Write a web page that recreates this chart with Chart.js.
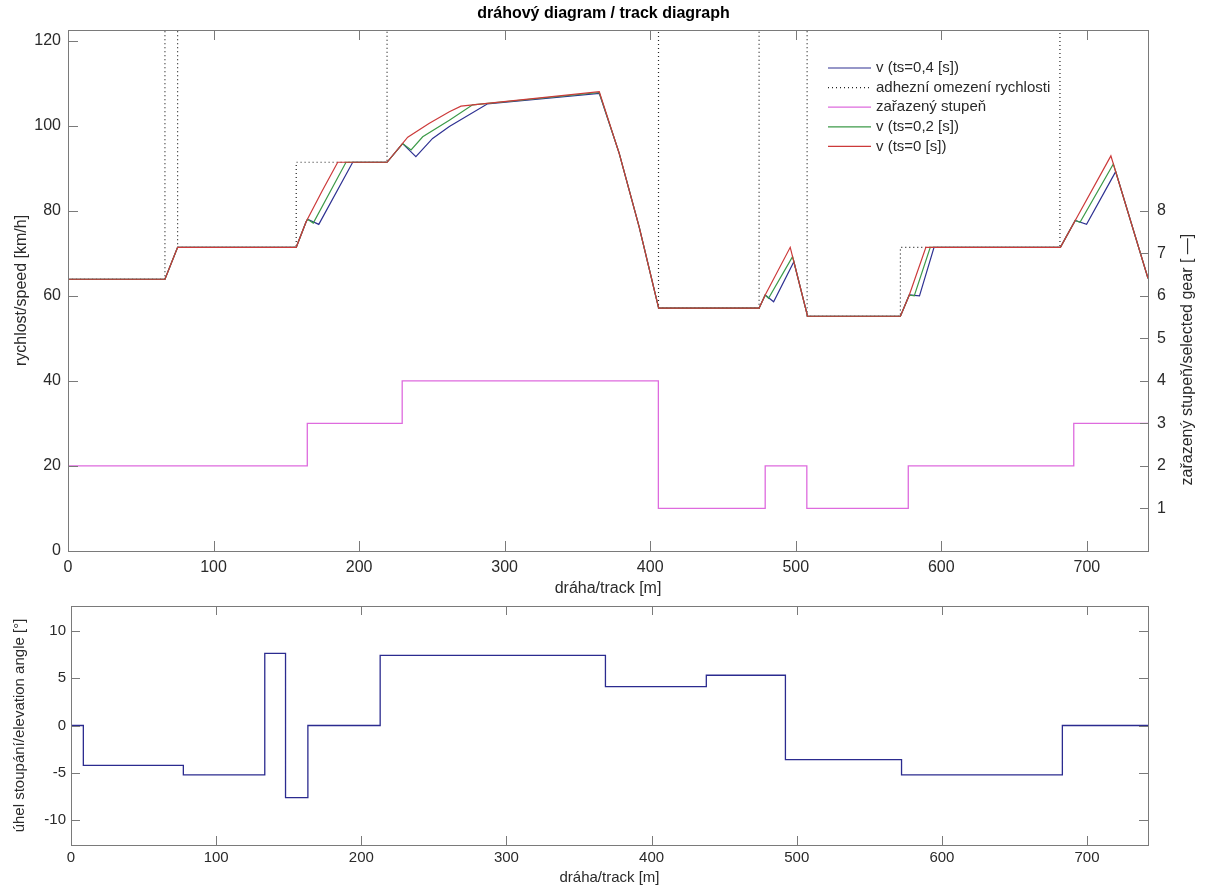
<!DOCTYPE html>
<html>
<head>
<meta charset="utf-8">
<script src="https://cdn.jsdelivr.net/npm/chart.js@4.4.0/dist/chart.umd.min.js"></script>
<style>
  html, body { margin: 0; padding: 0; background: #ffffff; }
  #wrap { position: relative; width: 1207px; height: 888px; background: #fff; }
  #top { position: absolute; left: 0; top: 0; }
  #bot { position: absolute; left: 0; top: 600px; }
</style>
</head>
<body>
<div id="wrap">
  <canvas id="top" width="1207" height="600"></canvas>
  <canvas id="bot" width="1207" height="288"></canvas>
</div>
<script>
// ---------------- DATA ----------------
const titleText = 'dráhový diagram / track diagraph';
const xTitle = 'dráha/track [m]';
const ySpeedTitle = 'rychlost/speed [km/h]';
const yGearTitle = 'zařazený stupeň/selected gear [ —]';
const yElevTitle = 'úhel stoupání/elevation angle [°]';

const legendLabels = ['v (ts=0,4 [s])', 'adhezní omezení rychlosti', 'zařazený stupeň', 'v (ts=0,2 [s])', 'v (ts=0 [s])'];

// speed, ts = 0.4 s
const blueX = [0, 66.6, 75.3, 156.8, 163.6, 164.6, 172.3, 195.6, 219.2, 229.9, 239, 250.5, 262, 288, 365, 378.7, 392.4, 405.8, 474.8, 479, 484.8, 498.7, 508.1, 571.9, 578, 585, 595, 681.8, 692, 699.8, 719.8, 742];
const blueY = [63.9, 63.9, 71.4, 71.4, 77.4, 78.0, 76.8, 91.4, 91.4, 95.8, 92.7, 97.0, 99.8, 105.1, 107.6, 93.5, 76.2, 57.1, 57.1, 60.2, 58.6, 68.0, 55.2, 55.2, 60.2, 60.0, 71.4, 71.4, 77.7, 76.8, 89.2, 64.1];

// adhesion speed limit (values above the axis run off the top)
const adhX = [0, 66.6, 66.6, 75.3, 75.3, 156.8, 156.8, 219.2, 219.2, 405.7, 405.7, 474.8, 474.8, 507.8, 507.8, 571.9, 571.9, 681.5, 681.5, 742];
const adhY = [63.9, 63.9, 130, 130, 71.4, 71.4, 91.4, 91.4, 130, 130, 57.1, 57.1, 130, 130, 55.2, 55.2, 71.4, 71.4, 130, 130];

// selected gear (value valid from x onwards)
const gearX = [0, 0, 164.4, 229.6, 405.6, 479, 507.6, 577.3, 691, 742];
const gearY = [1, 2, 3, 4, 1, 2, 1, 2, 3, 3];

// speed, ts = 0.2 s
const greenX = [0, 66.6, 75.3, 156.8, 163.6, 164.6, 168.5, 191, 219.2, 229.9, 235.7, 243.7, 262, 278, 365, 378.7, 392.4, 405.8, 474.8, 479, 481.3, 497.8, 508.1, 571.9, 578, 581.4, 592.4, 681.8, 692, 695.3, 718.2, 742];
const greenY = [63.9, 63.9, 71.4, 71.4, 77.4, 78.0, 77.1, 91.4, 91.4, 95.8, 94.3, 97.4, 101.3, 104.9, 107.8, 93.5, 76.2, 57.1, 57.1, 60.2, 59.4, 69.2, 55.2, 55.2, 60.2, 60.0, 71.4, 71.4, 77.7, 77.3, 91.0, 64.1];

// speed, ts = 0 s
const redX = [0, 66.6, 75.3, 156.8, 163.6, 174.5, 185.3, 219.2, 233.4, 248, 262, 270, 365, 378.7, 392.4, 405.8, 474.8, 479, 496.2, 508.1, 571.9, 578, 589.4, 681.8, 692, 716.5, 742];
const redY = [63.9, 63.9, 71.4, 71.4, 77.4, 84.6, 91.4, 91.4, 97.3, 100.5, 103.3, 104.6, 108.0, 93.5, 76.2, 57.1, 57.1, 60.2, 71.4, 55.2, 55.2, 60.2, 71.4, 71.4, 77.7, 92.9, 64.1];

// elevation angle (value valid from x onwards)
const elevX = [0, 8.5, 77.4, 133.5, 147.8, 163.2, 213, 368.2, 437.7, 492.2, 572.2, 683, 742];
const elevY = [0, -4.2, -5.2, 7.6, -7.6, 0, 7.4, 4.1, 5.3, -3.6, -5.2, 0, 0];

// axis ranges / ticks
const xMin = 0, xMax = 742, xStep = 100;
const speedMin = 0, speedMax = 122.5, speedStep = 20;
const gearMin = 0, gearMax = 12.25, gearTicks = [1, 2, 3, 4, 5, 6, 7, 8];
const elevMin = -12.6, elevMax = 12.6, elevStep = 5;

// ---------------- STYLE ----------------
const FONT = "'Liberation Sans', Arial, Helvetica, sans-serif";
const AXIS_COL = '#7a7a7a';
const TEXT_COL = '#2a2a2a';
const COL_BLUE = '#2e3192';
const COL_GREEN = '#3c9a48';
const COL_RED = '#cc3a3a';
const COL_MAG = '#de6bde';
const COL_DOT = '#222222';
const COL_ELEV = '#2b2b8f';

const pts = (xs, ys) => xs.map((x, i) => ({ x: x, y: ys[i] }));

// box + inward tick marks
const frameTicks = {
  id: 'frameTicks',
  afterDraw(chart, args, o) {
    const { ctx, chartArea: a } = chart;
    ctx.save();
    ctx.strokeStyle = AXIS_COL;
    ctx.lineWidth = 1;
    ctx.strokeRect(Math.round(a.left) + 0.5, Math.round(a.top) + 0.5, Math.round(a.right - a.left), Math.round(a.bottom - a.top));
    ctx.beginPath();
    const xs = chart.scales.x;
    xs.ticks.forEach(t => {
      const p = Math.round(xs.getPixelForValue(t.value)) + 0.5;
      ctx.moveTo(p, a.bottom); ctx.lineTo(p, a.bottom - o.len);
      ctx.moveTo(p, a.top); ctx.lineTo(p, a.top + o.len);
    });
    const ys = chart.scales.y;
    ys.ticks.forEach(t => {
      const p = Math.round(ys.getPixelForValue(t.value)) + 0.5;
      ctx.moveTo(a.left, p); ctx.lineTo(a.left + o.len, p);
      if (o.mirrorY) { ctx.moveTo(a.right, p); ctx.lineTo(a.right - o.len, p); }
    });
    const y2 = chart.scales.y2;
    if (y2) {
      y2.ticks.forEach(t => {
        const p = Math.round(y2.getPixelForValue(t.value)) + 0.5;
        ctx.moveTo(a.right, p); ctx.lineTo(a.right - o.len2, p);
      });
    }
    ctx.stroke();
    ctx.restore();
  }
};

// legend drawn inside plot area, from dataset styles
const insideLegend = {
  id: 'insideLegend',
  afterDraw(chart, args, o) {
    if (!o.show) return;
    const { ctx } = chart;
    ctx.save();
    ctx.font = '15px ' + FONT;
    ctx.textBaseline = 'middle';
    ctx.textAlign = 'left';
    chart.data.datasets.forEach((ds, i) => {
      const y = o.y0 + i * o.dy;
      ctx.beginPath();
      ctx.strokeStyle = ds.borderColor;
      ctx.lineWidth = ds.borderWidth;
      ctx.setLineDash(ds.borderDash || []);
      ctx.moveTo(o.x0, y); ctx.lineTo(o.x1, y);
      ctx.stroke();
      ctx.setLineDash([]);
      ctx.fillStyle = TEXT_COL;
      ctx.fillText(ds.label, o.x1 + 5, y);
    });
    ctx.restore();
  }
};

// right axis title, reading bottom-to-top, centered on the visible gear ticks
const rightTitle = {
  id: 'rightTitle',
  afterDraw(chart, args, o) {
    if (!o.text) return;
    const { ctx } = chart;
    const y2 = chart.scales.y2;
    const cy = (y2.getPixelForValue(gearTicks[0]) + y2.getPixelForValue(gearTicks[gearTicks.length - 1])) / 2;
    ctx.save();
    ctx.translate(o.x, cy);
    ctx.rotate(-Math.PI / 2);
    ctx.font = '16px ' + FONT;
    ctx.fillStyle = TEXT_COL;
    ctx.textAlign = 'center';
    ctx.textBaseline = 'middle';
    ctx.fillText(o.text, 0, 0);
    ctx.restore();
  }
};

const noPad = s => { s.paddingTop = 0; s.paddingBottom = 0; s.paddingLeft = 0; s.paddingRight = 0; };

Chart.defaults.font.family = FONT;
Chart.defaults.color = TEXT_COL;

// ---------------- TOP CHART ----------------
new Chart(document.getElementById('top'), {
  type: 'line',
  data: {
    datasets: [
      { label: legendLabels[0], data: pts(blueX, blueY), borderColor: COL_BLUE, borderWidth: 1.2, pointRadius: 0, tension: 0, yAxisID: 'y', order: 5 },
      { label: legendLabels[1], data: pts(adhX, adhY), borderColor: COL_DOT, borderWidth: 1.2, borderDash: [1, 3], pointRadius: 0, tension: 0, yAxisID: 'y', order: 4 },
      { label: legendLabels[2], data: pts(gearX, gearY), borderColor: COL_MAG, borderWidth: 1.3, pointRadius: 0, stepped: 'before', yAxisID: 'y2', order: 3 },
      { label: legendLabels[3], data: pts(greenX, greenY), borderColor: COL_GREEN, borderWidth: 1.2, pointRadius: 0, tension: 0, yAxisID: 'y', order: 2 },
      { label: legendLabels[4], data: pts(redX, redY), borderColor: COL_RED, borderWidth: 1.2, pointRadius: 0, tension: 0, yAxisID: 'y', order: 1 }
    ]
  },
  options: {
    responsive: false,
    animation: false,
    devicePixelRatio: 1,
    layout: { padding: 0 },
    plugins: {
      legend: { display: false },
      tooltip: { enabled: false },
      title: { display: true, text: titleText, color: '#000', font: { size: 16, weight: 'bold', family: FONT }, padding: { top: 4, bottom: 6.8 } },
      frameTicks: { len: 10, len2: 8, mirrorY: false },
      insideLegend: { show: true, x0: 828, x1: 871, y0: 68, dy: 19.6 },
      rightTitle: { text: yGearTitle, x: 1188 }
    },
    scales: {
      x: {
        type: 'linear', min: xMin, max: xMax,
        grid: { display: false, drawTicks: false },
        border: { display: false },
        ticks: { stepSize: xStep, includeBounds: false, padding: 7.4, font: { size: 16 }, color: TEXT_COL, maxRotation: 0 },
        title: { display: true, text: xTitle, font: { size: 16 }, color: TEXT_COL, padding: { top: 0, bottom: 1.4 } },
        afterFit(s) { s.height = 49; noPad(s); }
      },
      y: {
        type: 'linear', position: 'left', min: speedMin, max: speedMax,
        grid: { display: false, drawTicks: false },
        border: { display: false },
        ticks: { stepSize: speedStep, includeBounds: false, padding: 7, font: { size: 16 }, color: TEXT_COL },
        title: { display: true, text: ySpeedTitle, font: { size: 16 }, color: TEXT_COL, padding: { top: 12, bottom: 0 } },
        afterFit(s) { s.width = 68; noPad(s); }
      },
      y2: {
        type: 'linear', position: 'right', min: gearMin, max: gearMax,
        grid: { display: false, drawTicks: false },
        border: { display: false },
        ticks: { stepSize: 1, includeBounds: false, padding: 9, font: { size: 16 }, color: TEXT_COL },
        afterBuildTicks(s) { s.ticks = gearTicks.map(v => ({ value: v })); },
        afterFit(s) { s.width = 59; noPad(s); }
      }
    }
  },
  plugins: [frameTicks, insideLegend, rightTitle]
});

// ---------------- BOTTOM CHART ----------------
new Chart(document.getElementById('bot'), {
  type: 'line',
  data: {
    datasets: [
      { label: 'elevation', data: pts(elevX, elevY), borderColor: COL_ELEV, borderWidth: 1.3, pointRadius: 0, stepped: 'before' }
    ]
  },
  options: {
    responsive: false,
    animation: false,
    devicePixelRatio: 1,
    layout: { padding: { top: 6, right: 59, left: 0, bottom: 0 } },
    plugins: {
      legend: { display: false },
      tooltip: { enabled: false },
      frameTicks: { len: 9, len2: 9, mirrorY: true },
      insideLegend: { show: false },
      rightTitle: { text: '' }
    },
    scales: {
      x: {
        type: 'linear', min: xMin, max: xMax,
        grid: { display: false, drawTicks: false },
        border: { display: false },
        ticks: { stepSize: xStep, includeBounds: false, padding: 4, font: { size: 15 }, color: TEXT_COL, maxRotation: 0 },
        title: { display: true, text: xTitle, font: { size: 15 }, color: TEXT_COL, padding: { top: 0, bottom: 1 } },
        afterFit(s) { s.height = 43; noPad(s); }
      },
      y: {
        type: 'linear', position: 'left', min: elevMin, max: elevMax,
        grid: { display: false, drawTicks: false },
        border: { display: false },
        ticks: { stepSize: elevStep, includeBounds: false, padding: 5, font: { size: 15 }, color: TEXT_COL },
        title: { display: true, text: yElevTitle, font: { size: 15 }, color: TEXT_COL, padding: { top: 11, bottom: 0 } },
        afterFit(s) { s.width = 71; noPad(s); }
      }
    }
  },
  plugins: [frameTicks, insideLegend, rightTitle]
});
</script>
</body>
</html>
